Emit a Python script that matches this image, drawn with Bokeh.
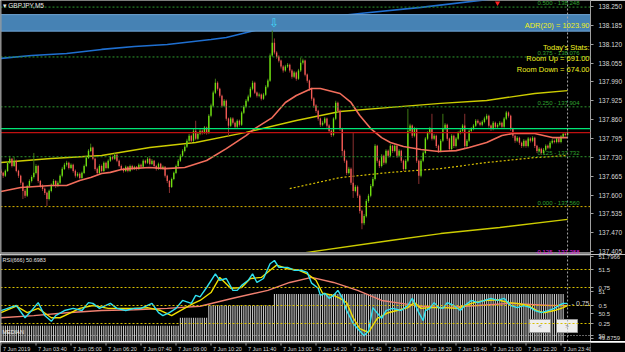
import numpy as np
from bokeh.plotting import figure
from bokeh.layouts import column
from bokeh.models import Range1d, FixedTicker, PrintfTickFormatter, Span, Label
from bokeh.embed import file_html
from bokeh.resources import INLINE
from bokeh.core.properties import value

# ------------------------------------------------------------------ data
symbol = "GBPJPY,M5"
price_base = 137.0          # OHLC / line values below: thousandths of a yen above 137.000
first_open = 683
closes = [676,666,683,711,725,700,718,683,666,642,
          614,597,631,648,662,676,700,648,631,621,
          607,586,614,635,648,631,642,666,690,704,
          711,693,704,683,666,673,659,676,700,728,
          752,763,725,690,676,700,683,711,693,718,
          731,725,738,718,700,690,683,697,683,700,
          690,697,690,704,697,718,711,725,707,718,
          700,690,707,693,697,666,648,628,655,676,
          700,718,735,752,766,787,804,787,821,794,
          811,821,814,832,814,873,908,953,987,966,
          942,908,925,863,839,863,849,835,856,842,
          884,904,925,939,966,987,953,942,946,932,
          946,973,994,1081,1125,1091,1077,1063,1043,1029,
          1043,1049,1029,1008,1022,1001,1029,1056,1063,1015,
          994,966,932,908,890,863,842,849,863,839,
          821,807,863,918,890,828,752,718,676,690,
          642,614,628,597,545,503,527,579,597,631,
          655,769,718,700,735,711,752,735,769,752,
          769,735,752,718,690,718,821,839,804,828,
          718,666,718,745,794,814,828,794,804,769,
          752,787,828,842,794,759,804,769,794,814,
          821,839,769,787,821,828,839,856,849,842,
          852,863,873,839,828,849,835,842,849,835,
          863,884,873,828,804,787,797,780,769,787,
          769,794,787,797,769,752,759,745,756,769,
          763,780,787,783,794,783,801,811,807,815]
highs = [690,680,688,716,735,728,731,722,687,670,
         646,621,635,654,668,745,706,704,652,637,
         626,611,619,640,655,652,649,671,697,711,
         718,715,709,708,688,679,678,681,705,733,
         758,777,767,729,695,706,705,716,715,723,
         737,736,744,742,722,705,694,702,700,705,
         704,701,700,709,708,723,722,731,729,724,
         721,704,712,711,702,700,670,652,660,681,
         705,724,741,758,772,794,811,808,828,856,
         817,827,826,838,836,879,915,960,1001,992,
         970,946,931,929,867,869,868,853,861,860,
         889,910,931,946,973,994,991,957,953,950,
         952,979,1001,1088,1167,1140,1096,1082,1067,1048,
         1049,1055,1053,1034,1028,1026,1035,1074,1070,1067,
         1019,998,970,937,913,894,867,856,869,867,
         844,826,868,925,922,895,832,757,722,697,
         695,815,635,633,602,550,534,586,604,638,
         662,776,773,723,741,739,758,757,776,773,
         775,773,758,756,722,724,897,846,843,835,
         832,722,724,751,800,820,835,880,810,808,
         774,793,880,848,846,798,810,808,800,820,
         827,845,880,793,827,834,845,862,861,854,
         858,870,880,877,843,855,853,848,855,853,
         869,890,888,877,832,808,803,801,784,793,
         791,800,799,803,801,773,765,763,762,775,
         774,786,793,791,800,798,807,817,816,820]
lows = [669,659,662,679,707,695,697,678,659,635,
        586,590,593,626,643,657,671,642,625,614,
        600,562,581,609,630,624,627,637,661,686,
        698,688,689,677,660,661,654,655,672,696,
        724,748,720,684,670,672,678,679,688,689,
        714,720,721,713,695,685,677,679,678,679,
        685,686,684,686,692,693,706,707,702,703,
        695,684,686,688,688,660,641,607,624,651,
        672,696,714,731,747,762,782,780,783,789,
        790,806,808,810,808,810,868,903,948,960,
        936,902,903,856,804,834,843,829,831,836,
        838,879,899,920,935,961,948,936,937,926,
        928,941,968,990,1076,1085,1070,1057,1036,1022,
        1025,1038,1022,1001,1003,994,997,1024,1050,1009,
        987,959,925,901,883,856,835,837,844,832,
        814,800,802,858,884,821,735,711,669,671,
        635,590,609,590,536,482,496,522,573,592,
        626,650,711,693,695,704,706,729,730,745,
        747,728,730,711,683,686,713,815,797,799,
        711,638,661,713,740,789,809,788,789,762,
        745,747,782,823,787,752,754,762,764,789,
        809,816,762,764,782,816,823,834,844,837,
        837,847,858,832,821,823,830,830,837,829,
        830,858,867,821,797,780,782,773,762,764,
        763,764,781,782,762,745,747,739,740,751,
        758,758,775,778,778,778,778,796,802,803]

# moving averages / channel lines on the price panel (bar index, thousandths)
ma_bars = [0, 9, 23, 30, 36, 41, 46, 50, 55, 59, 68, 75, 84, 94, 103, 112, 116, 124, 130, 135,
           142, 146, 155, 160, 164, 169, 174, 178, 184, 192, 200, 208, 214, 222, 229, 234, 244, 252, 259]
ma_vals = [612, 626, 633, 633, 650, 660, 674, 678, 688, 691, 695, 691, 695, 719, 760, 805, 829, 867, 919, 943,
           967, 967, 950, 919, 874, 829, 798, 781, 767, 757, 750, 753, 764, 781, 805, 812, 812, 798, 798]
upper_bars = [0, 23, 46, 68, 89, 112, 135, 155, 178, 201, 222, 244, 259]
upper_vals = [712, 726, 736, 764, 781, 816, 857, 888, 902, 916, 926, 950, 960]
dotted_bars = [132, 155, 178, 201, 222, 244, 259]
dotted_vals = [622, 660, 678, 691, 712, 729, 736]
lower_bars = [114, 136, 178, 201, 228, 259]
lower_vals = [378, 398, 443, 467, 488, 516]
blue_bars = [0, 14, 30, 46, 61, 76, 96, 103, 116, 135, 164, 192, 219, 259]
blue_vals = [1071, 1081, 1088, 1102, 1112, 1119, 1136, 1143, 1167, 1202, 1226, 1247, 1271, 1305]

price_ticks = [138.250, 138.185, 138.120, 138.055, 137.990, 137.925, 137.860,
               137.795, 137.730, 137.665, 137.600, 137.535, 137.470, 137.405]
fib_levels = [138.248, 138.076, 137.904, 137.732, 137.560, 137.388]
fib_labels = ["0.500 - 138.248", "0.375 - 138.076", "0.250 - 137.904",
              "0.125 - 137.732", "0.000 - 137.560", "-0.125 - 137.388"]
fib_line_colors = ["#2f9a2f", "#2f9a2f", "#2f9a2f", "#2f9a2f", "#d8b400", "#e020e0"]
fib_text_colors = ["#2fa02f", "#2fa02f", "#2fa02f", "#2fa02f", "#2fa02f", "#e020e0"]
adr_zone = (138.165, 138.222)
green_level = 137.829
signal_arrow = (227, 138.262)

adr_text = "ADR(20) = 1023.90"
stats_text = ["Today's Stats:", "Room Up = 691.00", "Room Down = 674.00"]

time_tick_bars = [0, 16, 32, 48, 64, 80, 96, 112, 128, 144, 160, 176, 192, 208, 224, 240, 256]
time_tick_labels = ["7 Jun 2019", "7 Jun 03:40", "7 Jun 05:00", "7 Jun 06:20", "7 Jun 07:40",
                    "7 Jun 09:00", "7 Jun 10:20", "7 Jun 11:40", "7 Jun 13:00", "7 Jun 14:20",
                    "7 Jun 15:40", "7 Jun 17:00", "7 Jun 18:20", "7 Jun 19:40", "7 Jun 21:00",
                    "7 Jun 22:20", "7 Jun 23:40"]

# oscillator panel (0..1 scale of the sub-window)
fast_bars = [0,4,7,11,14,17,20,23,25,29,33,37,40,42,45,50,53,57,61,64,69,72,74,77,80,83,87,89,91,94,
             98,100,103,106,108,110,113,115,117,120,123,125,127,131,134,137,140,142,145,146,148,150,152,
             154,156,158,161,163,166,168,170,174,176,179,183,186,188,191,193,194,196,198,200,202,204,207,
             210,212,215,218,221,224,227,230,233,236,239,242,244,247,250,253,255,257,259]
fast_vals = [0.43,0.47,0.50,0.33,0.43,0.54,0.36,0.28,0.36,0.43,0.46,0.43,0.54,0.53,0.46,0.53,0.46,0.43,
             0.46,0.46,0.53,0.40,0.36,0.40,0.46,0.57,0.53,0.64,0.62,0.75,0.94,0.85,0.875,0.71,0.71,0.78,
             0.85,0.94,0.82,0.875,1.08,1.125,1.03,1.03,0.99,0.99,0.96,0.81,0.74,0.64,0.67,0.60,0.64,0.71,
             0.61,0.43,0.25,0.18,0.08,0.15,0.47,0.32,0.43,0.46,0.43,0.50,0.60,0.40,0.29,0.43,0.46,0.54,
             0.47,0.46,0.54,0.50,0.43,0.50,0.57,0.54,0.57,0.60,0.57,0.60,0.50,0.47,0.50,0.47,0.43,0.40,
             0.43,0.46,0.50,0.53,0.53]
signal_bars = [0,7,12,17,23,27,32,36,42,49,55,61,67,73,78,82,88,91,96,100,105,110,114,119,123,126,131,
               136,140,144,147,152,155,158,161,164,168,172,177,181,186,189,192,196,202,209,215,221,227,
               232,236,241,245,248,253,257,259]
signal_vals = [0.40,0.49,0.40,0.46,0.33,0.33,0.40,0.46,0.50,0.46,0.46,0.46,0.47,0.43,0.36,0.43,0.53,0.57,
               0.68,0.89,0.74,0.75,0.875,0.89,0.99,1.06,1.01,0.99,0.94,0.85,0.67,0.64,0.60,0.54,0.33,0.18,
               0.125,0.32,0.40,0.43,0.47,0.54,0.46,0.47,0.47,0.46,0.53,0.57,0.58,0.54,0.53,0.50,0.43,0.40,
               0.43,0.47,0.50]
slow_bars = [0,15,30,46,61,76,91,106,122,132,142,152,163,174,183,192,202,218,233,251,259]
slow_vals = [0.33,0.36,0.40,0.43,0.44,0.46,0.49,0.60,0.71,0.82,0.89,0.82,0.71,0.57,0.53,0.49,0.47,0.50,
             0.53,0.50,0.50]
median_hist = [0.22]*82 + [0.33]*13 + [0.50]*30 + [0.66]*133
osc_levels = [1.0, 0.75, 0.5, 0.25]
rsi_label = "RSI(666) 50.6983"
rsi_scale_ticks = [51.7966, 51.5, 51.0, 50.5, 50.0]
rsi_scale_min = 49.8759
osc_scale_ticks = [0.75, 0.5, 0.25]

# ------------------------------------------------------------------ layout helpers (pixels of the MT4 screen)
FONT = "Liberation Sans"
X0, DX = 0.5, 2.1875          # bar 0 pixel, pixels per bar
FRAME_W = 590
def bar_at(px): return (px - X0) / DX
PX_PER_YEN = 18.85 / 0.065
def price_at(py): return 138.250 - (py - 6) / PX_PER_YEN
def osc_at(py): return (341 - py) / 72.0
def rsi_to_osc(r): return (6 + (r - 50.0) * 44) / 72.0

to_price = lambda v: price_base + np.asarray(v, dtype=float) / 1000.0
xr = Range1d(bar_at(0), bar_at(FRAME_W))

def style_axis(a, size):
    a.axis_line_color = "#a0a0a0"
    a.major_tick_line_color = "#a0a0a0"
    a.major_tick_out = 3
    a.major_tick_in = 0
    a.minor_tick_line_color = None
    a.major_label_text_color = "#d8d8d8"
    a.major_label_text_font = FONT
    a.major_label_text_font_size = size
    a.major_label_standoff = 5

# ------------------------------------------------------------------ main price panel
p = figure(width=625, height=254, x_range=xr, y_range=Range1d(price_at(254), price_at(0)),
           output_backend="svg", toolbar_location=None, x_axis_location=None, y_axis_location="right",
           min_border_left=0, min_border_right=35, min_border_top=0, min_border_bottom=0,
           background_fill_color="black", border_fill_color="black", outline_line_color=None)
p.grid.visible = False
ax = p.yaxis[0]
ax.ticker = FixedTicker(ticks=price_ticks)
ax.formatter = PrintfTickFormatter(format="%.3f")
style_axis(ax, "6.5px")

for lvl, col in zip(fib_levels, fib_line_colors):
    p.add_layout(Span(location=lvl, dimension="width", line_color=col, line_dash="2 2", line_width=1))

bars = np.arange(len(closes))
c = to_price(closes)
o = to_price([first_open] + closes[:-1])
h = to_price(highs)
l = to_price(lows)
up = c >= o

p.line(blue_bars, to_price(blue_vals), line_color="#1f6fd0", line_width=1.6)
p.quad(left=[xr.start], right=[xr.end], bottom=[adr_zone[0]], top=[adr_zone[1]],
       fill_color="#4682b4", line_color="#6fa3d2", line_width=1)
p.line(upper_bars, to_price(upper_vals), line_color="#cccc00", line_width=1.4)
p.line(dotted_bars, to_price(dotted_vals), line_color="#d8c000", line_width=1.2, line_dash="2 2")
p.line(lower_bars, to_price(lower_vals), line_color="#cccc00", line_width=1.4)

wick_col = np.where(up, "#3e7a14", "#8a3030")
body_col = np.where(up, "#70e010", "#f25a55")
p.segment(x0=bars, y0=l, x1=bars, y1=h, line_color=list(wick_col), line_width=1)
p.vbar(x=bars, bottom=np.minimum(o, c), top=np.maximum(o, c) + 0.0004, width=0.62,
       fill_color=list(body_col), line_color=None)

p.line(ma_bars, to_price(ma_vals), line_color="#f26d5b", line_width=1.6)

p.add_layout(Span(location=green_level, dimension="width", line_color="#00e676", line_width=1.4))
p.add_layout(Span(location=float(c[-1]), dimension="width", line_color="#c01010", line_width=1.2))
p.add_layout(Span(location=float(bars[-1]), dimension="height", line_color="#a8a8a8",
                  line_dash="2 2", line_width=1))
p.add_layout(Span(location=xr.start, dimension="height", line_color="#9a9a9a", line_width=2))
# sub-window separator
p.quad(left=[xr.start], right=[xr.end], bottom=[price_at(254)], top=[price_at(251.5)],
       fill_color="#808080", line_color=None)

p.scatter([signal_arrow[0]], [signal_arrow[1]], marker="inverted_triangle", size=5,
          fill_color="#ff2020", line_color=None)
hi_bar = int(np.argmax(highs))
p.add_layout(Label(x=hi_bar, y=float(h[hi_bar]), text="\u21e9", text_font="DejaVu Sans",
                   text_font_size="12px", text_color="#40d8f8", text_align="center",
                   text_baseline="bottom", x_offset=2, y_offset=1))

for lvl, txt, tc in zip(fib_levels, fib_labels, fib_text_colors):
    p.add_layout(Label(x=bar_at(579), y=lvl, text=txt, text_font=FONT, text_font_size="6px",
                       text_color=tc, text_align="right", text_baseline="bottom", y_offset=1))

p.add_layout(Label(x=bar_at(589), y=price_at(25), text=adr_text, text_font=FONT,
                   text_font_size="7.5px", text_color="#f0f020", text_align="right", text_baseline="middle"))
for k, t in enumerate(stats_text):
    p.add_layout(Label(x=bar_at(589), y=price_at(47 + 11 * k), text=t, text_font=FONT,
                       text_font_size="7.5px", text_color="#f0f020", text_align="right",
                       text_baseline="middle"))
p.add_layout(Label(x=bar_at(2), y=price_at(5), text="\u25be " + symbol, text_font=FONT,
                   text_font_size="6.5px", text_color="#e8e8e8", text_align="left", text_baseline="middle"))

# ------------------------------------------------------------------ oscillator panel
q = figure(width=625, height=87, x_range=xr, y_range=Range1d(osc_at(341), osc_at(255)),
           output_backend="svg", toolbar_location=None, x_axis_location=None, y_axis_location="right",
           min_border_left=0, min_border_right=35, min_border_top=1, min_border_bottom=0,
           background_fill_color="black", border_fill_color="black", outline_line_color=None)
q.grid.visible = False
ry = q.yaxis[0]
# the scale minimum is written just inside the bottom edge, as the terminal does
min_tick = osc_at(337.5)
rticks = [rsi_to_osc(r) for r in rsi_scale_ticks] + osc_scale_ticks + [min_tick]
ry.ticker = FixedTicker(ticks=rticks)
ovr = {rsi_to_osc(r): ("%g" % r) for r in rsi_scale_ticks}
ovr.update({v: "%g" % v for v in osc_scale_ticks})
ovr[min_tick] = "%g" % rsi_scale_min
ry.major_label_overrides = ovr
style_axis(ry, "6px")

q.vbar(x=np.arange(len(median_hist)), bottom=0, top=median_hist, width=0.5,
       fill_color="#c4c4c4", line_color=None)
for lv in osc_levels:
    q.add_layout(Span(location=lv, dimension="width", line_color="#d8c000", line_dash="2 2", line_width=1))
q.add_layout(Span(location=rsi_to_osc(50.0), dimension="width", line_color="#c8c8c8",
                  line_dash="1 2", line_width=1))
q.line(slow_bars, slow_vals, line_color="#f08070", line_width=1.4)
q.line(signal_bars, signal_vals, line_color="#f0e000", line_width=1.4)
q.line(fast_bars, fast_vals, line_color="#30e0f0", line_width=1.4)
q.add_layout(Span(location=float(bars[-1]), dimension="height", line_color="#a8a8a8",
                  line_dash="2 2", line_width=1))
q.add_layout(Span(location=xr.start, dimension="height", line_color="#9a9a9a", line_width=2))

for bx, txt in [(529, "<"), (556, ">")]:
    q.quad(left=[bar_at(bx)], right=[bar_at(bx + 21)], bottom=[osc_at(332)], top=[osc_at(319)],
           fill_color="#eeeeee", line_color="#9a9a9a")
    q.add_layout(Label(x=bar_at(bx + 10.5), y=osc_at(325.5), text=txt, text_font=FONT,
                       text_font_size="6px", text_color="#606060", text_align="center",
                       text_baseline="middle"))

q.add_layout(Label(x=bar_at(2), y=osc_at(259), text=rsi_label, text_font=FONT, text_font_size="5.5px",
                   text_color="#e0e0e0", text_align="left", text_baseline="middle"))
q.add_layout(Label(x=bar_at(2), y=osc_at(331), text="MEDIAN", text_font=FONT, text_font_size="5.5px",
                   text_color="#f0f0f0", text_align="left", text_baseline="middle"))
q.add_layout(Label(x=bar_at(589), y=osc_at(303), text="- 0.75", text_font=FONT, text_font_size="7px",
                   text_color="#d0d0d0", text_align="right", text_baseline="middle"))

# ------------------------------------------------------------------ time axis strip (pixel rows 341..352)
s = figure(width=625, height=11, x_range=xr, y_range=Range1d(0, 11),
           output_backend="svg", toolbar_location=None, x_axis_location=None, y_axis_location=None,
           min_border_left=0, min_border_right=35, min_border_top=0, min_border_bottom=0,
           background_fill_color="black", border_fill_color="black", outline_line_color=None)
s.grid.visible = False
s.add_layout(Span(location=10.5, dimension="width", line_color="#808080", line_width=1))
s.segment(x0=time_tick_bars, y0=[11] * len(time_tick_bars), x1=time_tick_bars,
          y1=[8] * len(time_tick_bars), line_color="#a0a0a0", line_width=1)
s.text(x=time_tick_bars, y=[4.5] * len(time_tick_bars), text=time_tick_labels, x_offset=2,
       text_font=value(FONT), text_font_size="5.5px", text_color="#d8d8d8",
       text_align="left", text_baseline="middle")

layout = column(p, q, s, spacing=0)
open("out.html", "w").write(file_html(layout, INLINE))
